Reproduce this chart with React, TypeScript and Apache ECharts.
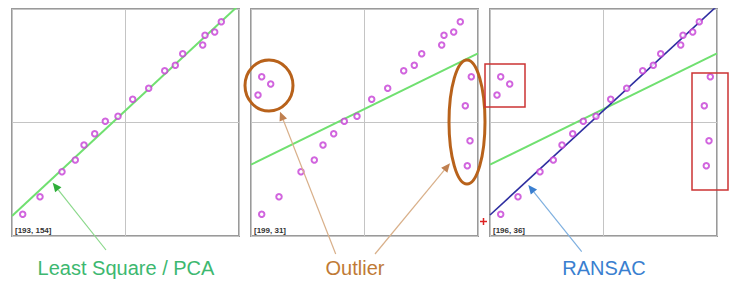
import React, { useEffect, useRef } from "react";
import * as echarts from "echarts";

// Inlier points (panel-local units, origin bottom-left, 227 x 227 panel)
const inlierX = [10.7, 28, 50, 63.3, 72, 82.7, 93.3, 106, 120.7, 136.7, 152.7, 163.3, 170.7, 190.7, 193, 202.7, 209.3];
const inlierY = [21.7, 39.3, 64.3, 76, 91, 102.3, 114.7, 119.7, 136.7, 147.7, 165.3, 170.7, 182.3, 191, 200.7, 204, 214.3];
// Outlier points
const outlierX = [10.7, 19.7, 7, 220.3, 214.3, 219, 216.3];
const outlierY = [159.3, 152, 141, 159.3, 130.3, 95.3, 70.3];
// Fitted line endpoints
const lsqCleanLine = [[0, 20], [227, 231]];
const lsqOutlierLine = [[0, 71.3], [227, 182.7]];
const ransacLine = [[0, 21], [227, 230]];
// Labels
const panelCoords = ["[193, 154]", "[199, 31]", "[196, 36]"];
const captions = ["Least Square / PCA", "Outlier", "RANSAC"];

const PANEL_LEFT = [12, 251, 490];
const PANEL_TOP = 9;
const PANEL_SIZE = 227;
const RANGE = 227;

function zip(xs: number[], ys: number[]) {
  return xs.map((x, i) => [x, ys[i]]);
}

function arrow(x1: number, y1: number, x2: number, y2: number, lineColor: string, headColor: string, len = 9, hw = 4) {
  const dx = x2 - x1, dy = y2 - y1;
  const L = Math.sqrt(dx * dx + dy * dy);
  const ux = dx / L, uy = dy / L;
  const bx = x2 - ux * len, by = y2 - uy * len;
  const px = -uy, py = ux;
  return [
    { type: "line", z: 50, shape: { x1, y1, x2: bx, y2: by }, style: { stroke: lineColor, lineWidth: 1.2 } },
    {
      type: "polygon", z: 51,
      shape: { points: [[x2, y2], [bx + px * hw, by + py * hw], [bx - px * hw, by - py * hw]] },
      style: { fill: headColor },
    },
  ];
}

export default function App() {
  const ref = useRef<HTMLDivElement>(null);
  useEffect(() => {
    if (!ref.current) return;
    const chart = echarts.init(ref.current, null, { renderer: "svg" });
    const inliers = zip(inlierX, inlierY);
    const outliers = zip(outlierX, outlierY);
    const grids = PANEL_LEFT.map((l) => ({
      left: l, top: PANEL_TOP, width: PANEL_SIZE, height: PANEL_SIZE,
      show: true, borderColor: "#9a9a9a", borderWidth: 2, backgroundColor: "#fff",
    }));
    const axisBase = {
      type: "value", min: 0, max: RANGE, interval: RANGE / 2,
      axisLine: { show: false }, axisTick: { show: false }, axisLabel: { show: false },
      splitLine: { show: true, lineStyle: { color: "#c4c4c4", width: 1 } },
    };
    const xAxis = [0, 1, 2].map((i) => ({ ...axisBase, gridIndex: i }));
    const yAxis = [0, 1, 2].map((i) => ({ ...axisBase, gridIndex: i }));

    const scatterStyle = {
      type: "scatter", symbol: "emptyCircle", symbolSize: 5.5, z: 10,
      itemStyle: { color: "#c63fd6", borderWidth: 1.5 },
    };
    const lineS = (i: number, data: number[][], color: string, w: number) => ({
      type: "line", xAxisIndex: i, yAxisIndex: i, data, symbol: "none", clip: true, z: 5,
      lineStyle: { color, width: w }, silent: true,
    });
    const GREEN = "#70e070";
    const series: any[] = [
      lineS(0, lsqCleanLine, GREEN, 2),
      { ...scatterStyle, xAxisIndex: 0, yAxisIndex: 0, data: inliers },
      lineS(1, lsqOutlierLine, GREEN, 2),
      { ...scatterStyle, xAxisIndex: 1, yAxisIndex: 1, data: inliers.concat(outliers) },
      lineS(2, lsqOutlierLine, GREEN, 2),
      lineS(2, ransacLine, "#2e2ea0", 1.6),
      { ...scatterStyle, xAxisIndex: 2, yAxisIndex: 2, data: inliers.concat(outliers) },
    ];

    const graphic: any[] = [];
    panelCoords.forEach((t, i) => {
      graphic.push({
        type: "text", z: 60, x: PANEL_LEFT[i] + 3, y: 230,
        style: { text: t, font: "bold 8px 'Liberation Sans', Arial", fill: "#333", verticalAlign: "middle" },
      });
    });
    const capX = [126, 355, 604];
    const capColors = ["#3db870", "#c07a35", "#3a7fd0"];
    captions.forEach((t, i) => {
      graphic.push({
        type: "text", z: 60, x: capX[i], y: 268,
        style: { text: t, font: "20px 'Liberation Sans', Arial", fill: capColors[i], align: "center", verticalAlign: "middle" },
      });
    });
    // Outlier ellipses (panel 2)
    graphic.push({
      type: "ellipse", z: 55, shape: { cx: 269, cy: 85.5, rx: 24, ry: 25.5 },
      style: { fill: "none", stroke: "#b8621b", lineWidth: 3 },
    });
    graphic.push({
      type: "ellipse", z: 55, shape: { cx: 467, cy: 122, rx: 18, ry: 62 },
      style: { fill: "none", stroke: "#b8621b", lineWidth: 3 },
    });
    // RANSAC outlier boxes (panel 3)
    graphic.push({
      type: "rect", z: 55, shape: { x: 485, y: 64, width: 40, height: 43 },
      style: { fill: "none", stroke: "#cc3333", lineWidth: 1.5 },
    });
    graphic.push({
      type: "rect", z: 55, shape: { x: 692, y: 73, width: 36, height: 117 },
      style: { fill: "none", stroke: "#cc3333", lineWidth: 1.5 },
    });
    // Red plus
    graphic.push({ type: "line", z: 56, shape: { x1: 480, y1: 221.5, x2: 487, y2: 221.5 }, style: { stroke: "#dd2222", lineWidth: 1.5 } });
    graphic.push({ type: "line", z: 56, shape: { x1: 483.5, y1: 218, x2: 483.5, y2: 225 }, style: { stroke: "#dd2222", lineWidth: 1.5 } });
    // Arrows
    graphic.push(...arrow(106, 250, 52.7, 182.7, "#8ad88a", "#2fae3a"));
    graphic.push(...arrow(335.7, 254, 280, 111.7, "#d9b08a", "#c08050"));
    graphic.push(...arrow(375, 254, 450, 163.3, "#d9b08a", "#c08050"));
    graphic.push(...arrow(581.7, 251.7, 528.3, 185, "#7fb0e0", "#3a7fd0"));

    chart.setOption({
      animation: false,
      backgroundColor: "#fff",
      grid: grids,
      xAxis,
      yAxis,
      series,
      graphic,
    } as any);
    return () => chart.dispose();
  }, []);
  return <div ref={ref} style={{ position: "fixed", left: 0, top: 0, width: 737, height: 283 }} />;
}
